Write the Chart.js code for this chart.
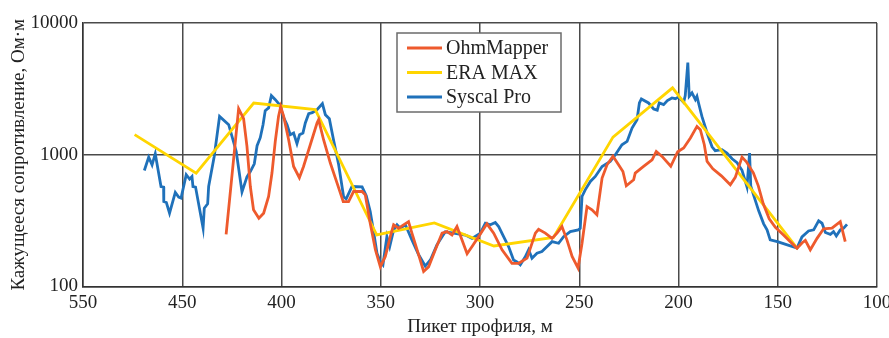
<!DOCTYPE html>
<html>
<head>
<meta charset="utf-8">
<script src="https://cdn.jsdelivr.net/npm/chart.js@4.4.0/dist/chart.umd.min.js"></script>
<style>
  html, body { margin: 0; padding: 0; background: #fff; }
</style>
</head>
<body>
<canvas id="chart" width="889" height="338"></canvas>
<script>
// ---- data ----
// x: picket along the profile, m; y: apparent resistivity, Ohm*m
const ohmX = [427.9, 421.6, 419.1, 417.4, 415.7, 414.1, 411.4, 409.0, 406.5, 404.8,
  403.1, 401.5, 400.4, 398.9, 396.4, 393.9, 391.0, 388.9, 385.5, 382.1,
  381.3, 378.8, 375.4, 372.0, 368.9, 366.2, 363.7, 359.4, 357.8, 355.3,
  352.7, 350.2, 347.7, 345.2, 343.5, 341.0, 338.5, 336.0, 334.3, 330.9,
  328.4, 325.9, 322.5, 319.1, 316.6, 314.1, 311.6, 309.1, 306.5, 304.0,
  300.7, 296.5, 293.1, 288.9, 283.9, 280.5, 276.3, 272.1, 270.5, 267.1,
  263.7, 261.2, 258.7, 256.2, 253.6, 250.6, 248.6, 246.1, 243.6, 241.1,
  238.5, 236.0, 233.0, 230.2, 228.0, 226.3, 222.6, 221.8, 217.6, 213.3,
  211.2, 208.3, 203.9, 200.4, 197.4, 194.0, 190.7, 189.0, 187.0, 185.6,
  182.7, 178.4, 173.9, 171.4, 168.0, 165.8, 162.3, 159.8, 157.3, 154.3,
  151.2, 147.1, 143.7, 140.3, 137.8, 136.1, 133.6, 130.2, 126.9, 122.7,
  118.5, 116.0];
const ohmY = [249, 2238, 1878, 1156, 574, 382, 330, 360, 482, 726,
  1278, 1955, 2317, 1955, 1300, 815, 669, 815, 1191, 1742,
  1846, 1300, 865, 609, 441, 441, 526, 526, 496, 302,
  190, 141, 169, 239, 294, 277, 294, 311, 254, 174,
  130, 141, 190, 254, 261, 246, 285, 226, 177, 201,
  239, 299, 254, 190, 150, 150, 164, 254, 272, 254,
  232, 254, 285, 226, 169, 138, 213, 404, 382, 350,
  665, 839, 974, 839, 746, 581, 646, 726, 815, 916,
  1059, 971, 818, 1054, 1125, 1340, 1641, 1549, 1191, 889,
  783, 692, 591, 674, 960, 885, 730, 581, 424, 326,
  281, 246, 219, 195, 214, 224, 190, 232, 274, 277,
  311, 219];

const eraX = [474, 443, 414, 383, 352, 323, 293, 263, 233, 203, 140];
const eraY = [1420, 726, 2470, 2200, 246, 304, 203, 236, 1360, 3220, 193];

const syscalX = [469.1, 466.9, 465.2, 463.6, 460.7, 459.4, 459.3, 458.0, 456.4, 453.5,
  451.8, 450.6, 448.0, 446.3, 445.1, 444.6, 443.3, 439.5, 438.9, 437.2,
  436.7, 433.9, 431.2, 426.6, 422.8, 419.9, 417.4, 415.7, 413.7, 412.3,
  410.7, 409.3, 408.2, 406.5, 405.1, 403.1, 401.0, 398.9, 397.2, 395.6,
  393.9, 392.2, 390.9, 389.2, 388.0, 386.3, 384.5, 382.1, 379.4, 377.9,
  375.9, 373.8, 371.2, 368.7, 367.4, 364.5, 359.4, 357.3, 355.3, 353.6,
  351.9, 350.2, 348.9, 346.9, 345.5, 343.5, 341.8, 340.2, 337.6, 334.3,
  330.9, 327.6, 325.0, 321.7, 317.5, 313.3, 307.4, 304.0, 299.8, 297.3,
  294.8, 292.3, 290.6, 288.1, 285.6, 283.1, 281.4, 279.7, 277.2, 275.5,
  273.8, 271.3, 268.8, 266.2, 263.7, 260.4, 257.9, 254.5, 250.5, 249.5,
  248.6, 247.0, 244.4, 241.9, 238.5, 234.4, 231.8, 228.5, 225.9, 223.4,
  220.9, 219.7, 218.7, 215.1, 212.5, 210.7, 209.7, 207.5, 205.6, 203.3,
  201.6, 199.9, 197.4, 196.6, 195.3, 194.6, 193.2, 191.5, 190.7, 189.9,
  188.2, 185.6, 183.1, 181.5, 178.1, 175.6, 173.0, 170.5, 168.0, 165.5,
  164.2, 163.6, 162.2, 159.6, 157.1, 155.4, 153.8, 150.2, 145.2, 140.3,
  137.8, 134.5, 131.9, 129.4, 127.7, 126.0, 123.5, 121.9, 120.5, 118.5,
  116.8, 115.1];
const syscalY = [760, 960, 839, 1018, 574, 568, 441, 434, 360, 517,
  477, 469, 705, 653, 684, 574, 568, 277, 393, 424,
  574, 971, 1955, 1691, 1059, 523, 680, 746, 854, 1171,
  1347, 1691, 2161, 2265, 2809, 2620, 2400, 1911, 1691, 1419,
  1462, 1212, 1419, 1462, 1742, 2050, 2086, 2199, 2442, 2015,
  1878, 1300, 839, 479, 463, 574, 571, 488, 371, 261,
  179, 154, 146, 239, 201, 269, 294, 277, 294, 226,
  174, 143, 159, 207, 260, 254, 246, 232, 254, 302,
  294, 306, 285, 239, 201, 159, 154, 146, 168, 190,
  164, 179, 184, 201, 219, 213, 239, 261, 269, 277,
  482, 542, 627, 684, 815, 889, 1000, 1191, 1262, 1596,
  1846, 2472, 2651, 2472, 2226, 2180, 2472, 2400, 2574, 2698,
  2665, 2746, 2499, 2809, 5007, 2775, 2946, 2620, 2775, 2472,
  1955, 1462, 1150, 1073, 1092, 1030, 932, 869, 762, 571,
  1030, 581, 496, 375, 299, 269, 226, 219, 207, 196,
  238, 264, 269, 315, 302, 257, 249, 261, 242, 269,
  277, 296];

// axis ticks (the figure labels its first tick "550")
const xTickValues = [500, 450, 400, 350, 300, 250, 200, 150, 100];
const xTickLabels = ['550', '450', '400', '350', '300', '250', '200', '150', '100'];
const yTickValues = [100, 1000, 10000];

const FONT = '"Liberation Serif", "Times New Roman", serif';
const GRID = '#4a4a4a';

function points(xs, ys) {
  return xs.map((x, i) => ({ x, y: ys[i] }));
}

// legend box drawn inside the plot
const boxLegend = {
  id: 'boxLegend',
  afterDatasetsDraw(chart) {
    const ctx = chart.ctx;
    const x0 = 397, y0 = 33, w = 164, h = 79;
    ctx.save();
    ctx.fillStyle = '#fff';
    ctx.fillRect(x0, y0, w, h);
    ctx.strokeStyle = '#6b6b6b';
    ctx.lineWidth = 1.5;
    ctx.strokeRect(x0, y0, w, h);
    ctx.font = '20px ' + FONT;
    ctx.textBaseline = 'middle';
    chart.data.datasets.forEach((ds, i) => {
      const y = y0 + 15 + i * 24.5;
      ctx.strokeStyle = ds.borderColor;
      ctx.lineWidth = 3;
      ctx.beginPath();
      ctx.moveTo(x0 + 10, y);
      ctx.lineTo(x0 + 45, y);
      ctx.stroke();
      ctx.fillStyle = '#222';
      ctx.fillText(ds.label, x0 + 49, y + 1);
    });
    ctx.restore();
  }
};

new Chart(document.getElementById('chart'), {
  type: 'scatter',
  data: {
    datasets: [
      { label: 'OhmMapper', data: points(ohmX, ohmY), borderColor: '#EE5A2D' },
      { label: 'ERA MAX', data: points(eraX, eraY), borderColor: '#FFD500' },
      { label: 'Syscal Pro', data: points(syscalX, syscalY), borderColor: '#1F71BA' }
    ].map(d => Object.assign(d, {
      showLine: true, borderWidth: 2.8, pointRadius: 0, tension: 0, fill: false
    }))
  },
  options: {
    responsive: false,
    animation: false,
    devicePixelRatio: 1,
    layout: { padding: { left: 0, right: 12, top: 23, bottom: 0 } },
    plugins: { legend: { display: false }, tooltip: { enabled: false } },
    scales: {
      x: {
        type: 'linear',
        reverse: true,
        min: 100,
        max: 500,
        afterBuildTicks: s => { s.ticks = xTickValues.map(v => ({ value: v })); },
        afterFit: s => { s.height = 51.5; s.paddingLeft = 0; s.paddingRight = 0; },
        ticks: {
          padding: 5,
          maxRotation: 0,
          color: '#222',
          font: { family: FONT, size: 19 },
          callback: v => xTickLabels[xTickValues.indexOf(v)]
        },
        grid: { color: GRID, lineWidth: 1.5, drawTicks: false },
        border: { color: '#333', width: 1.5 },
        title: {
          display: true,
          text: 'Пикет профиля, м',
          color: '#222',
          font: { family: FONT, size: 19 },
          padding: { top: 0, bottom: 0 }
        }
      },
      y: {
        type: 'logarithmic',
        min: 100,
        max: 10000,
        afterBuildTicks: s => { s.ticks = yTickValues.map(v => ({ value: v })); },
        afterFit: s => { s.width = 83; },
        ticks: {
          padding: 5,
          color: '#222',
          font: { family: FONT, size: 19 },
          callback: v => String(v)
        },
        grid: { color: GRID, lineWidth: 1.5, drawTicks: false },
        border: { color: '#333', width: 1.5 },
        title: {
          display: true,
          text: 'Кажущееся сопротивление, Ом·м',
          color: '#222',
          font: { family: FONT, size: 19 },
          padding: { top: 8, bottom: 0 }
        }
      }
    }
  },
  plugins: [boxLegend]
});
</script>
</body>
</html>
